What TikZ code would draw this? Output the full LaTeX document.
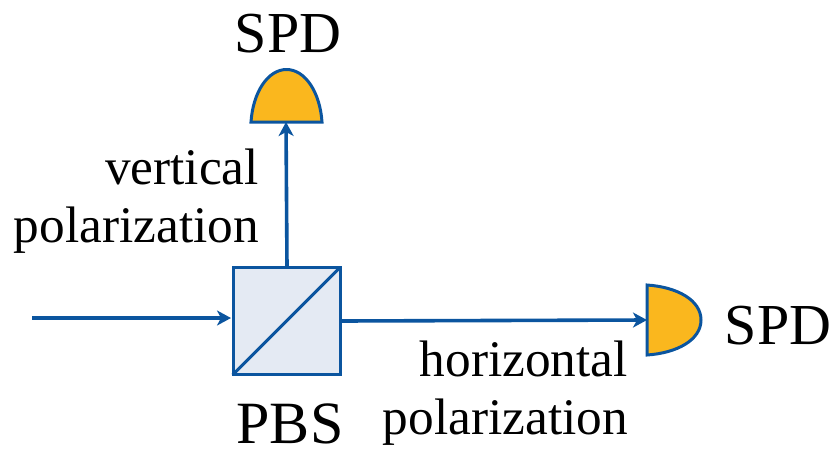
\documentclass[tikz,border=0pt]{standalone}
\usepackage{fontspec}
\setmainfont{Liberation Serif}
\usetikzlibrary{arrows.meta}
\definecolor{bl}{HTML}{0B559F}
\definecolor{am}{HTML}{FAB71E}
\definecolor{pale}{HTML}{E4EAF3}
\tikzset{
 x=1pt,y=-1pt,
 beam/.style={draw=bl,line width=3.6pt,-{Stealth[length=14pt,width=15pt,inset=4pt]}},
 det/.style={draw=bl,line width=3pt,fill=am,line join=miter},
 lab/.style={font=\fontsize{51.3}{56}\selectfont,text=black,inner sep=0pt,align=right},
 big/.style={font=\fontsize{58}{62}\selectfont,text=black,inner sep=0pt}
}
\begin{document}
\begin{tikzpicture}
\useasboundingbox (0,0) rectangle (836,451);
\node[draw=bl,line width=3pt,fill=pale,minimum width=107pt,minimum height=107pt,inner sep=0pt] (pbs) at (286.5,321) {};
\draw[draw=bl,line width=3pt,shorten <=1.5pt,shorten >=1.5pt] (pbs.south west) -- (pbs.north east);
\draw[det] (251,122) .. controls (253,92) and (268,69.5) .. (286.5,69.5) .. controls (305,69.5) and (320,92) .. (322,122) -- cycle;
\coordinate (dt) at (286,122);
\draw[det] (647,285) .. controls (677,287) and (701,300) .. (701,320) .. controls (701,340) and (677,353) .. (647,355) -- cycle;
\coordinate (dr) at (647,320);
\coordinate (in) at (32,318);
\coordinate (pt) at (287,267);
\coordinate (pr) at (340,321);
\draw[beam] (pt) -- (dt);
\draw[beam] (pr) -- (dr);
\draw[beam] (in) -- (231,318);
\node[big,anchor=base] (s1) at (288,52) {SPD};
\node[big,anchor=base] (s2) at (778,344) {SPD};
\node[big,font=\fontsize{60}{64}\selectfont,anchor=base] (p) at (290,443) {PBS};
\node[lab,anchor=base east] (v1) at (259,184) {vertical};
\node[lab,anchor=base east] (v2) at (259,242) {polarization};
\node[lab,anchor=base east] (h1) at (628,376) {horizontal};
\node[lab,anchor=base east] (h2) at (628,434) {polarization};
\end{tikzpicture}
\end{document}
